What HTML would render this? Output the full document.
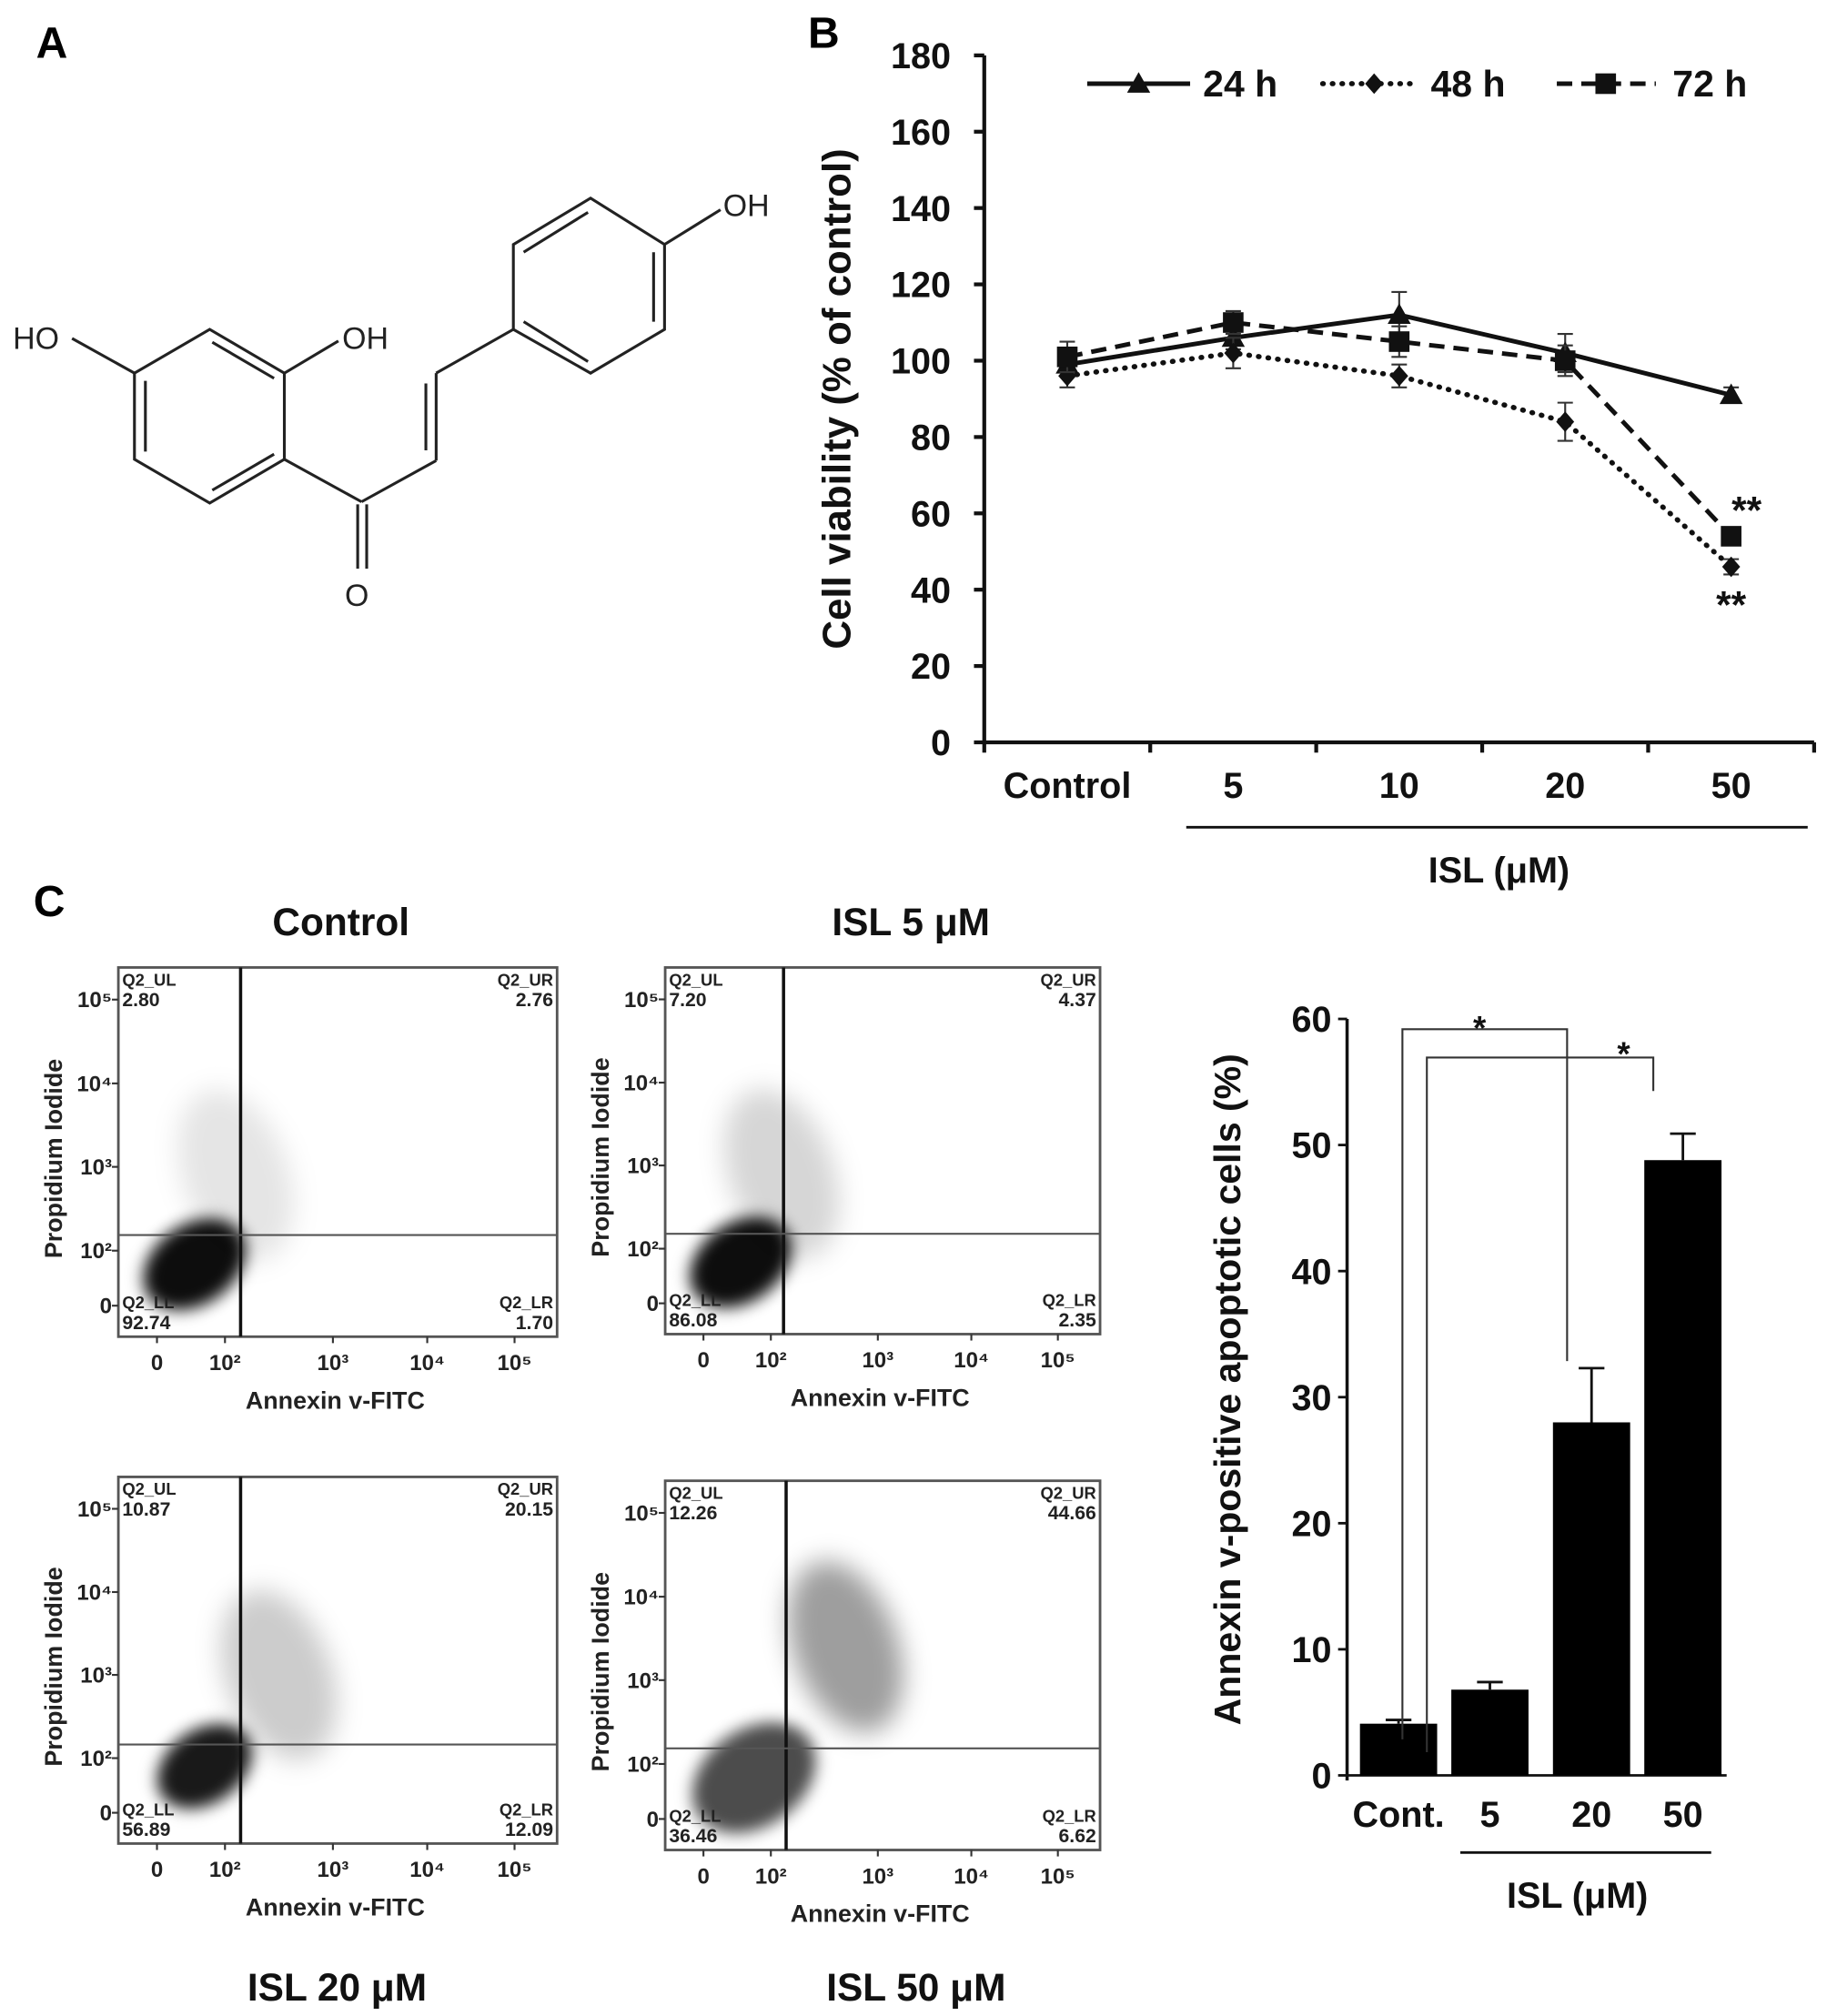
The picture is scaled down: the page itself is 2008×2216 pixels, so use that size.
<!DOCTYPE html>
<html><head><meta charset="utf-8"><style>
html,body{margin:0;padding:0;background:#fff}
svg{display:block}
text{font-family:"Liberation Sans",Arial,sans-serif}
</style></head><body>
<svg id="fig" width="2008" height="2216" viewBox="0 0 1420 1567" xmlns="http://www.w3.org/2000/svg">
<defs>
<filter id="blur4" x="-50%" y="-50%" width="200%" height="200%"><feGaussianBlur stdDeviation="6"/></filter>
<filter id="blur8" x="-50%" y="-50%" width="200%" height="200%"><feGaussianBlur stdDeviation="10"/></filter>
</defs>
<text x="28" y="45" font-size="34" font-weight="bold">A</text>
<g stroke="#222" stroke-width="2.2" fill="none">
<polygon points="163,256 221,290 221,357 163,391 104.5,357 104.5,290"/>
<line x1="113" y1="296" x2="113" y2="351"/>
<line x1="165" y1="266" x2="213" y2="294"/>
<line x1="165" y1="381" x2="213" y2="353"/>
<line x1="104.5" y1="290" x2="56" y2="263"/>
<line x1="221" y1="290" x2="263" y2="265"/>
<line x1="221" y1="357" x2="281" y2="390"/>
<line x1="281" y1="390" x2="339" y2="358"/>
<line x1="278" y1="392" x2="278" y2="442"/>
<line x1="285" y1="392" x2="285" y2="442"/>
<line x1="339" y1="358" x2="339" y2="290"/>
<line x1="331" y1="350" x2="331" y2="298"/>
<line x1="339" y1="290" x2="399" y2="256"/>
<polygon points="399,256 399,190 459,154 516.5,190 516.5,256 459,290"/>
<line x1="407" y1="196" x2="457" y2="165"/>
<line x1="508" y1="196" x2="508" y2="250"/>
<line x1="407" y1="250" x2="457" y2="281"/>
<line x1="516.5" y1="190" x2="560" y2="163"/>
</g>
<g font-size="24" fill="#222">
<text x="10" y="271">HO</text>
<text x="266" y="271">OH</text>
<text x="268" y="471">O</text>
<text x="562" y="168">OH</text>
</g>
<text x="628" y="37" font-size="34" font-weight="bold">B</text>
<g id="lineChart"></g>
<text x="26" y="712" font-size="34" font-weight="bold">C</text>
<g id="flowPlots"></g>
<g id="barChart"></g>
</svg>
<script>
// ---------- Panel B data ----------
const lineCategories = ["Control","5","10","20","50"];
const series24 = [99,106,112,102,91];
const err24 = [3,3,6,5,2];
const series48 = [96,102,96,84,46];
const err48 = [3,4,3,5,2];
const series72 = [101,110,105,100,54];
const err72 = [4,3,4,4,2];
const lineYTicks = [0,20,40,60,80,100,120,140,160,180];
const seriesNames = ["24 h","48 h","72 h"];

// ---------- Bar chart data ----------
const barCategories = ["Cont.","5","20","50"];
const barValues = [4.1,6.8,28.0,48.8];
const barErrors = [0.3,0.6,4.3,2.1];
const barYTicks = [0,10,20,30,40,50,60];

// ---------- Flow data ----------
const flowTitles = ["Control","ISL 5 μM","ISL 20 μM","ISL 50 μM"];
const flowUL = ["2.80","7.20","10.87","12.26"];
const flowUR = ["2.76","4.37","20.15","44.66"];
const flowLL = ["92.74","86.08","56.89","36.46"];
const flowLR = ["1.70","2.35","12.09","6.62"];
const flowXTicks = ["0","10²","10³","10⁴","10⁵"];
const flowYTicks = ["10⁵","10⁴","10³","10²","0"];
const coreX = [0.55,0.55,0.7,0.75];
const coreY = [0.75,0.75,0.85,0.75];
const coreSpread = [0.7,0.7,0.65,0.85];
const coreDark = [0.95,0.95,0.9,0.7];
const tailX = [1.1,1.1,1.5,1.7];
const tailY = [1.9,1.9,2.0,2.4];
const tailDark = [0.1,0.16,0.2,0.38];

const NS="http://www.w3.org/2000/svg";
function mk(tag,attrs,parent,txt){const e=document.createElementNS(NS,tag);for(const k in attrs)e.setAttribute(k,attrs[k]);if(txt!==undefined)e.textContent=txt;parent.appendChild(e);return e;}

(function(){
const g=document.getElementById('lineChart');
const x0=765,x1=1410,yb=577,yt=43;
const ys=v=>yb-(v/180)*(yb-yt);
const step=(x1-x0)/5;
const xs=i=>x0+step*(i+0.5);
mk('line',{x1:x0,y1:yt,x2:x0,y2:yb,stroke:'#111','stroke-width':3},g);
mk('line',{x1:x0,y1:yb,x2:x1,y2:yb,stroke:'#111','stroke-width':3},g);
lineYTicks.forEach(t=>{
  const l=mk('line',{x1:x0-8,y1:ys(t),x2:x0,y2:ys(t),stroke:'#111','stroke-width':3},g);
  
  const tx=mk('text',{x:x0-26,y:ys(t)+10,'text-anchor':'end','font-size':28,'font-weight':'bold',fill:'#111'},g,String(t));
  
  
});
for(let i=0;i<=5;i++){
  const l=mk('line',{x1:x0+step*i,y1:yb,x2:x0+step*i,y2:yb+8,stroke:'#111','stroke-width':3},g);
  
}
lineCategories.forEach((c,i)=>{
  const t=mk('text',{x:xs(i),y:620,'text-anchor':'middle','font-size':28,'font-weight':'bold',fill:'#111'},g,c);
  
  
});
const ul=mk('line',{x1:922,y1:643,x2:1405,y2:643,stroke:'#111','stroke-width':2},g);

const xt=mk('text',{x:1165,y:686,'text-anchor':'middle','font-size':28,'font-weight':'bold',fill:'#111'},g,'ISL (μM)');


const yt2=mk('text',{x:0,y:0,'text-anchor':'middle','font-size':31,'font-weight':'bold',fill:'#111',transform:'translate(661,310) rotate(-90)'},g,'Cell viability (% of control)');


const styles=[{dash:'',w:3.5},{dash:'0.5,7',w:4},{dash:'12,7',w:3.5}];
const data=[series24,series48,series72], errs=[err24,err48,err72];
const marker=(k,x,y,par)=>{
  let m;
  if(k===0) m=mk('polygon',{points:`${x},${y-9} ${x-9},${y+7} ${x+9},${y+7}`,fill:'#111'},par);
  else if(k===1) m=mk('polygon',{points:`${x},${y-8} ${x+7},${y} ${x},${y+8} ${x-7},${y}`,fill:'#111'},par);
  else m=mk('rect',{x:x-8,y:y-8,width:16,height:16,fill:'#111'},par);
  return m;
};
data.forEach((s,k)=>{
  const sg=mk('g',{},g);
  
  
  s.forEach((v,i)=>{
    const e=errs[k][i];
    const eb=mk('path',{d:`M${xs(i)},${ys(v+e)}V${ys(v-e)}M${xs(i)-6},${ys(v+e)}H${xs(i)+6}M${xs(i)-6},${ys(v-e)}H${xs(i)+6}`,stroke:'#333','stroke-width':1.5,fill:'none'},sg);
    
  });
  const p=mk('polyline',{points:s.map((v,i)=>xs(i)+','+ys(v)).join(' '),fill:'none',stroke:'#111','stroke-width':styles[k].w,'stroke-dasharray':styles[k].dash,'stroke-linecap':k===1?'round':'butt'},sg);
  
  s.forEach((v,i)=>{const m=marker(k,xs(i),ys(v),sg);});
});
const s1=mk('text',{x:xs(4)+12,y:ys(series72[4])-10,'text-anchor':'middle','font-size':30,'font-weight':'bold',fill:'#111'},g,'**');

const s2=mk('text',{x:xs(4),y:ys(series48[4])+40,'text-anchor':'middle','font-size':30,'font-weight':'bold',fill:'#111'},g,'**');

const lg=mk('g',{},g);


const legX=[[845,925,885,935],[1028,1100,1068,1112],[1210,1287,1248,1300]];
legX.forEach((L,k)=>{
  const ln=mk('line',{x1:L[0],y1:65,x2:L[1],y2:65,stroke:'#111','stroke-width':styles[k].w,'stroke-dasharray':styles[k].dash,'stroke-linecap':k===1?'round':'butt'},lg);
  
  const m=marker(k,L[2],65,lg);
  const t=mk('text',{x:L[3],y:75,'font-size':29,'font-weight':'bold',fill:'#111'},lg,seriesNames[k]);
  
});
})();

(function(){
const g=document.getElementById('flowPlots');
const boxes=[[92,752,433,1039],[517,752,855,1037],[92,1148,433,1433],[517,1151,855,1438]];
const vX=[187,609,187,611], hY=[960,959,1356,1359];
const titlePos=[[265,727],[708,727],[262,1555],[712,1555]];
const xf=[0.088,0.243,0.489,0.704,0.903];
const yf=[0.916,0.767,0.54,0.314,0.087];
function interp(arr,u){const i=Math.max(0,Math.min(3,Math.floor(u)));return arr[i]+(arr[i+1]-arr[i])*(u-i);}
boxes.forEach((b,p)=>{
  const [L,T,R,B]=b, W=R-L, H=B-T;
  const px=u=>L+interp(xf,u)*W, py=u=>T+interp(yf,u)*H;
  const pg=mk('g',{},g);
  
  
  const t=mk('text',{x:titlePos[p][0],y:titlePos[p][1],'text-anchor':'middle','font-size':30,'font-weight':'bold',fill:'#111'},pg,flowTitles[p]);
  
  const tail=mk('ellipse',{cx:px(tailX[p]),cy:py(tailY[p]),rx:W*0.12,ry:H*0.24,fill:'#000','fill-opacity':tailDark[p],filter:'url(#blur8)',transform:`rotate(-20 ${px(tailX[p])} ${py(tailY[p])})`},pg);
  
  const cx=px(coreX[p]),cy=py(coreY[p]);
  const core=mk('ellipse',{cx:cx,cy:cy,rx:W*0.1*coreSpread[p]/0.55,ry:H*0.085*coreSpread[p]/0.55,fill:'#000','fill-opacity':coreDark[p],filter:'url(#blur4)',transform:`rotate(-35 ${cx} ${cy})`},pg);
  
  const r=mk('rect',{x:L,y:T,width:W,height:H,fill:'none',stroke:'#555','stroke-width':2},pg);
  
  const v=mk('line',{x1:vX[p],y1:T,x2:vX[p],y2:B,stroke:'#111','stroke-width':2.5},pg);
  
  const h=mk('line',{x1:L,y1:hY[p],x2:R,y2:hY[p],stroke:'#555','stroke-width':1.5},pg);
  
  const q=[['Q2_UL',flowUL[p],L+3,T+14,'start'],['Q2_UR',flowUR[p],R-3,T+14,'end'],['Q2_LL',flowLL[p],L+3,B-22,'start'],['Q2_LR',flowLR[p],R-3,B-22,'end']];
  q.forEach(a=>{
    const t1=mk('text',{x:a[2],y:a[3],'text-anchor':a[4],'font-size':13,'font-weight':'bold',fill:'#222'},pg,a[0]);
    
    const t2=mk('text',{x:a[2],y:a[3]+16,'text-anchor':a[4],'font-size':15,'font-weight':'bold',fill:'#222'},pg,a[1]);
    
  });
  flowXTicks.forEach((s,i)=>{
    const x=L+xf[i]*W;
    const tk=mk('line',{x1:x,y1:B,x2:x,y2:B+5,stroke:'#333','stroke-width':1.5},pg);
    
    const tl=mk('text',{x:x,y:B+26,'text-anchor':'middle','font-size':17,'font-weight':'bold',fill:'#222'},pg,s);
    
  });
  flowYTicks.forEach((s,i)=>{
    const y=T+[0.087,0.314,0.54,0.767,0.916][i]*H;
    const tk=mk('line',{x1:L-5,y1:y,x2:L,y2:y,stroke:'#333','stroke-width':1.5},pg);
    
    const tl=mk('text',{x:L-5,y:y+6,'text-anchor':'end','font-size':17,'font-weight':'bold',fill:'#222'},pg,s);
    
  });
  const xa=mk('text',{x:(L+R)/2-2,y:B+56,'text-anchor':'middle','font-size':19,'font-weight':'bold',fill:'#222'},pg,'Annexin v-FITC');
  
  const ya=mk('text',{x:0,y:0,'text-anchor':'middle','font-size':19,'font-weight':'bold',fill:'#222',transform:`translate(${L-44},${(T+B)/2+5}) rotate(-90)`},pg,'Propidium Iodide');
  
});
})();

(function(){
const g=document.getElementById('barChart');
const x0=1047,x1=1342,yb=1380,ytop=792;
const ys=v=>yb-(v/60)*(yb-ytop);
const centers=[1087,1158,1237,1308];
const bw=60;
mk('line',{x1:x0,y1:ytop,x2:x0,y2:yb+4,stroke:'#111','stroke-width':2.5},g);
mk('line',{x1:x0,y1:yb,x2:x1,y2:yb,stroke:'#111','stroke-width':2},g);
barYTicks.forEach(t=>{
  const l=mk('line',{x1:x0-7,y1:ys(t),x2:x0,y2:ys(t),stroke:'#111','stroke-width':2},g);
  
  const tx=mk('text',{x:x0-12,y:ys(t)+10,'text-anchor':'end','font-size':28,'font-weight':'bold',fill:'#111'},g,String(t));
  
  
});
barValues.forEach((v,i)=>{
  const e=barErrors[i],c=centers[i];
  const eb=mk('path',{d:`M${c},${ys(v)}V${ys(v+e)}M${c-10},${ys(v+e)}H${c+10}`,stroke:'#111','stroke-width':2,fill:'none'},g);
  
  const r=mk('rect',{x:c-bw/2,y:ys(v),width:bw,height:yb-ys(v),fill:'#000'},g);
  
  
  const t=mk('text',{x:c,y:1420,'text-anchor':'middle','font-size':28,'font-weight':'bold',fill:'#111'},g,barCategories[i]);
  
  
});
const br1=mk('path',{d:'M1090,1352V800H1218V1058',stroke:'#333','stroke-width':1.5,fill:'none'},g);

const br2=mk('path',{d:'M1109,1362V822H1285V848',stroke:'#333','stroke-width':1.5,fill:'none'},g);

const a1=mk('text',{x:1150,y:808,'text-anchor':'middle','font-size':26,'font-weight':'bold',fill:'#111'},g,'*');

const a2=mk('text',{x:1262,y:828,'text-anchor':'middle','font-size':26,'font-weight':'bold',fill:'#111'},g,'*');

const ul=mk('line',{x1:1135,y1:1440,x2:1330,y2:1440,stroke:'#111','stroke-width':2},g);

const xt=mk('text',{x:1226,y:1483,'text-anchor':'middle','font-size':28,'font-weight':'bold',fill:'#111'},g,'ISL (μM)');


const yt=mk('text',{x:0,y:0,'text-anchor':'middle','font-size':29,'font-weight':'bold',fill:'#111',transform:'translate(964,1080) rotate(-90)'},g,'Annexin v-positive apoptotic cells (%)');


})();
</script>
</body></html>
